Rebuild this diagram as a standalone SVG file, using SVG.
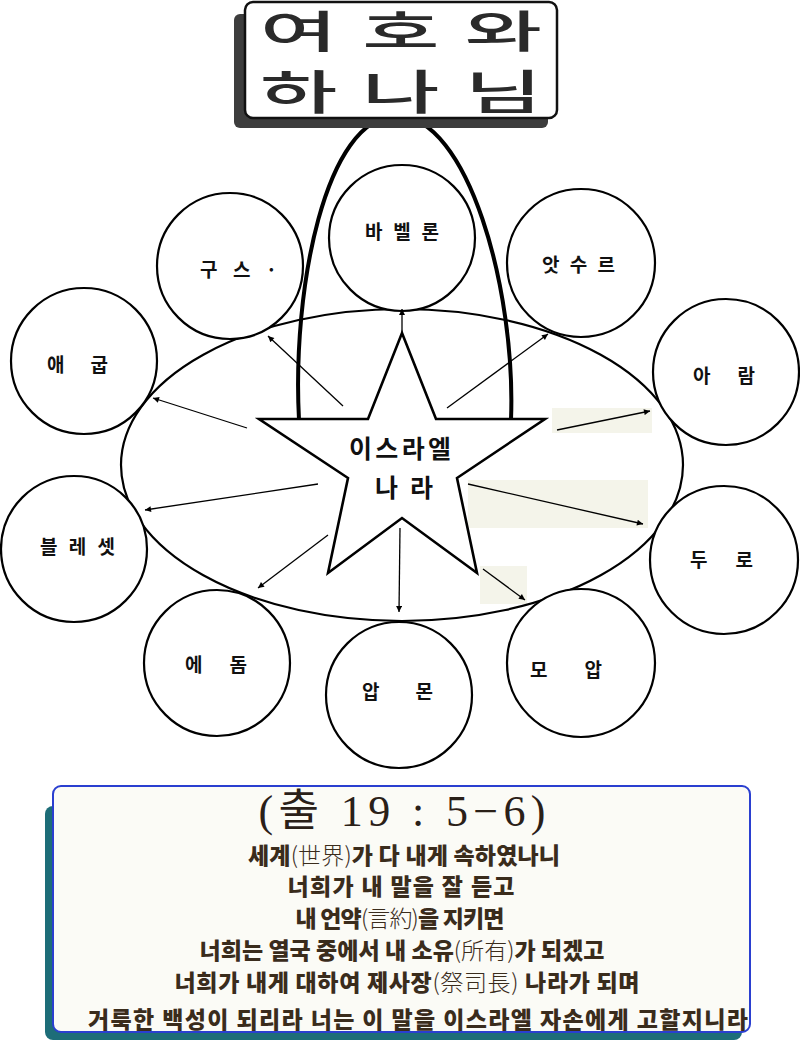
<svg xmlns="http://www.w3.org/2000/svg" width="800" height="1046" viewBox="0 0 800 1046">
<style>
.node circle{fill:#fff;stroke:#000;stroke-width:2.2}
.lbl{font-family:"Noto Sans CJK KR","Noto Sans",sans-serif;font-weight:700;font-size:19px;fill:#111}
.conn line{stroke:#000;stroke-width:1.3;marker-end:url(#ah)}
.patch{fill:#f4f4ea}
.verse{font-family:"Noto Sans CJK KR",sans-serif;font-weight:900;font-size:23px;fill:#3a2c1c;text-anchor:middle}
.han{font-weight:300}
.ttl{font-family:"Noto Sans CJK KR",sans-serif;font-weight:500;font-size:84px;fill:#2a2a2a}
</style>
<defs>
<marker id="ah" viewBox="0 0 10 10" refX="10" refY="5" markerWidth="9" markerHeight="6" markerUnits="userSpaceOnUse" orient="auto">
<path d="M0,0 L10,5 L0,10 z" fill="#000"/>
</marker>
</defs>
<rect width="800" height="1046" fill="#fff"/>

<!-- scan patches -->
<rect class="patch" x="552" y="408" width="100" height="25"/>
<rect class="patch" x="468" y="480" width="180" height="48"/>
<rect class="patch" x="480" y="566" width="47" height="38"/>

<!-- big ellipse -->
<g id="region">
<ellipse cx="402" cy="465" rx="281" ry="156" fill="none" stroke="#000" stroke-width="2.2"/>
</g>

<g id="babylon" class="node"><circle cx="402" cy="238" r="73"/><text class="lbl" x="402" y="239" text-anchor="middle" textLength="74" lengthAdjust="spacing">바 벨 론</text></g>
<g id="cush" class="node"><circle cx="230" cy="266" r="73"/><text class="lbl" x="200" y="277" textLength="77" lengthAdjust="spacing">구 스 ·</text></g>
<g id="egypt" class="node"><circle cx="84" cy="361" r="73"/><text class="lbl" x="47" y="372" textLength="61" lengthAdjust="spacing">애 굽</text></g>
<g id="assyria" class="node"><circle cx="581" cy="263" r="74"/><text class="lbl" x="542" y="272" textLength="73" lengthAdjust="spacing">앗 수 르</text></g>
<g id="aram" class="node"><circle cx="726" cy="372" r="73"/><text class="lbl" x="693" y="383" textLength="62" lengthAdjust="spacing">아 람</text></g>
<g id="philistia" class="node"><circle cx="74" cy="549" r="73"/><text class="lbl" x="40" y="554" textLength="75" lengthAdjust="spacing">블 레 셋</text></g>
<g id="edom" class="node"><circle cx="217" cy="663" r="73"/><text class="lbl" x="185" y="672" textLength="62" lengthAdjust="spacing">에 돔</text></g>
<g id="ammon" class="node"><circle cx="399" cy="695" r="73"/><text class="lbl" x="362" y="699" textLength="71" lengthAdjust="spacing">압 몬</text></g>
<g id="moab" class="node"><circle cx="581" cy="663" r="74"/><text class="lbl" x="530" y="677" textLength="72" lengthAdjust="spacing">모 압</text></g>
<g id="tyre" class="node"><circle cx="724" cy="560" r="74"/><text class="lbl" x="690" y="567" textLength="63" lengthAdjust="spacing">두 로</text></g>

<!-- star -->
<g id="israel">
<polygon points="402,333 436,419 545,419 457,478 477,573 402,518 328,573 348,478 259,419 368,419" fill="#fff" stroke="#000" stroke-width="2.6" stroke-linejoin="miter"/>
<text x="400" y="458" text-anchor="middle" font-family="Noto Sans CJK KR,sans-serif" font-weight="700" font-size="25" textLength="102" lengthAdjust="spacing" fill="#111">이스라엘</text>
<text x="404" y="497" text-anchor="middle" font-family="Noto Sans CJK KR,sans-serif" font-weight="700" font-size="25" textLength="58" lengthAdjust="spacing" fill="#111">나 라</text>
</g>

<!-- connectors -->
<g id="connectors" class="conn">
<path d="M299,420 C292,290 325,116 397,116 C468,116 516,290 511,420" fill="none" stroke="#000" stroke-width="4"/>
<line x1="343" y1="406" x2="268" y2="336"/>
<line x1="247" y1="428" x2="153" y2="398"/>
<line x1="402" y1="333" x2="402" y2="309"/>
<line x1="447" y1="408" x2="548" y2="334"/>
<line x1="557" y1="430" x2="650" y2="411"/>
<line x1="318" y1="484" x2="145" y2="510"/>
<line x1="328" y1="535" x2="258" y2="588"/>
<line x1="400" y1="528" x2="399" y2="612"/>
<line x1="483" y1="569" x2="525" y2="600"/>
<line x1="468" y1="484" x2="643" y2="524"/>
</g>

<!-- title -->
<g id="title">
<rect x="234" y="14" width="314" height="114" rx="6" fill="#3d3d3d"/>
<rect x="245" y="2" width="312" height="116" rx="8" fill="#fff" stroke="#111" stroke-width="2.5"/>
<text class="ttl" transform="translate(260,48) scale(1,0.53)" x="0" y="0" textLength="282" lengthAdjust="spacing">여호와</text>
<text class="ttl" transform="translate(260,109) scale(1,0.55)" x="0" y="0" textLength="282" lengthAdjust="spacing">하나님</text>
</g>

<!-- verse box -->
<g id="verse">
<rect x="45" y="806" width="697" height="234" rx="8" fill="#1d6d78"/>
<rect x="53" y="786" width="697" height="246" rx="8" fill="#fbfbf6" stroke="#2a3fd0" stroke-width="2"/>
<text x="402" y="826" text-anchor="middle" font-family="Liberation Serif,Noto Sans CJK KR,serif" font-size="44" fill="#2a2018" textLength="287" lengthAdjust="spacing">(출 19 : 5−6)</text>
<text class="verse" x="404" y="864" textLength="312" lengthAdjust="spacing">세계<tspan class="han">(世界)</tspan>가 다 내게 속하였나니</text>
<text class="verse" x="401" y="895" textLength="227" lengthAdjust="spacing">너희가 내 말을 잘 듣고</text>
<text class="verse" x="400" y="927" textLength="209" lengthAdjust="spacing">내 언약<tspan class="han">(言約)</tspan>을 지키면</text>
<text class="verse" x="402" y="959" textLength="405" lengthAdjust="spacing">너희는 열국 중에서 내 소유<tspan class="han">(所有)</tspan>가 되겠고</text>
<text class="verse" x="407" y="991" textLength="465" lengthAdjust="spacing">너희가 내게 대하여 제사장<tspan class="han">(祭司長)</tspan> 나라가 되며</text>
<text class="verse" x="418" y="1028" textLength="660" lengthAdjust="spacing">거룩한 백성이 되리라 너는 이 말을 이스라엘 자손에게 고할지니라</text>
</g>
</svg>
